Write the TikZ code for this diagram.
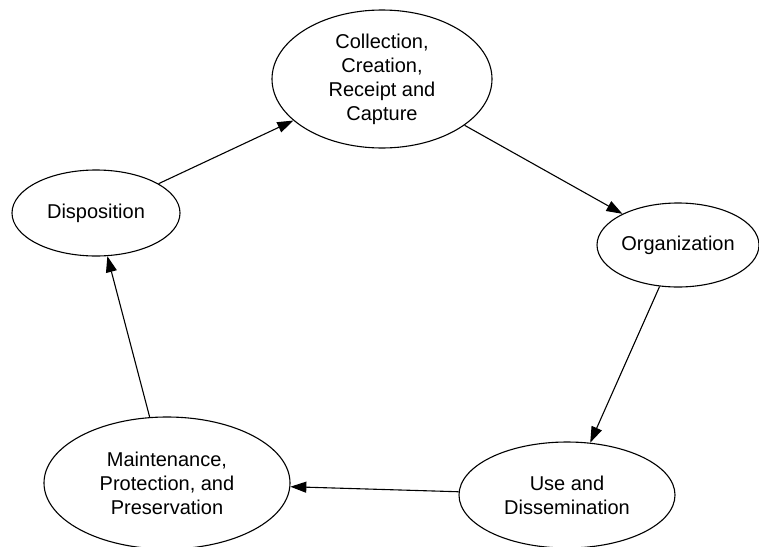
\documentclass[tikz,border=0pt]{standalone}
\usepackage{fontspec}
\setmainfont{Liberation Sans}
\usetikzlibrary{shapes.geometric,arrows.meta}
\begin{document}
\begin{tikzpicture}[x=1pt,y=-1pt,
  stage/.style={ellipse, draw, line width=1.1pt, inner sep=0pt, align=center,
    font=\fontsize{20}{24}\selectfont},
  flow/.style={-{Triangle[length=16pt,width=11pt]}, line width=1.1pt}]
\useasboundingbox (0,0) rectangle (759,546);
\clip (0,0) rectangle (759,546);

% lifecycle stages
\node[stage, minimum width=220pt, minimum height=138pt] (collect) at (382,79)
  {Collection,\\Creation,\\Receipt and\\Capture};
\node[stage, minimum width=162pt, minimum height=84pt] (org) at (678,245)
  {Organization};
\node[stage, minimum width=216pt, minimum height=106pt] (use) at (567,495)
  {Use and\\Dissemination};
\node[stage, minimum width=246pt, minimum height=132pt] (maint) at (167,483)
  {Maintenance,\\Protection, and\\Preservation};
\node[stage, minimum width=168pt, minimum height=86pt] (disp) at (96,213)
  {Disposition};

% cycle
\draw[flow] (collect) -- (org);
\draw[flow] (org) -- (use);
\draw[flow] (use) -- (maint);
\draw[flow] (maint) -- (disp);
\draw[flow] (disp) -- (collect);
\end{tikzpicture}
\end{document}
